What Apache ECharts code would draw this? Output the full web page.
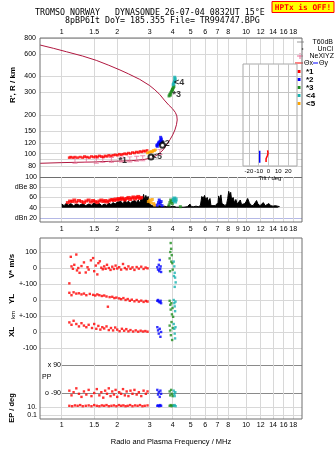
<!DOCTYPE html>
<html>
<head>
<meta charset="utf-8">
<script src="https://cdn.jsdelivr.net/npm/echarts@6/dist/echarts.min.js"></script>
<style>
html, body { margin: 0; padding: 0; background: #fff; }
#main { width: 335px; height: 451px; }
</style>
</head>
<body>
<div id="main"></div>
<script>
// ---- tick labels ----
const freqTicksTop = [1, 1.5, 2, 3, 4, 5, 6, 7, 8, 10, 12, 14, 16, 18];
const freqTicksMid = [1, 1.5, 2, 3, 4, 5, 6, 7, 8, 9, 10, 12, 14, 16, 18];
const freqTicksBottom = [1, 1.5, 2, 3, 4, 5, 6, 7, 8, 10, 12, 14, 16, 18];
const heightTicks = [80, 90, 100, 120, 150, 200, 300, 400, 600, 800];
const insetHeightTicks = [100, 120, 150, 200, 300, 400];
const tiltTicks = [-20, -10, 0, 10, 20];
const dbTicks = [20, 40, 60, 80, 100];
const dbTickNames = ['dBn 20', '40', '60', 'dBe 80', '100'];
const epTicks = [0.1, 10];
const epTickNames = ['0.1', '10.'];
const vTicks = [-100, 0, 100];
const vTickNames = ['+-100', '0', '100'];
const ylTickNames = ['+-100', '0', ''];
const xlTickNames = ['-100', '0', ''];
const ppTicks = [-90, 90];
const ppTickNames = ['o -90', 'x 90'];

// ---- height panel (MHz, km) ----
const profile = [[0.763,84],[1.0,85],[1.2,85.5],[1.5,86],[1.8,87],[2.1,87.5],[2.4,88],[2.6,89],[2.8,90],[3.0,92],[3.2,95],
  [3.4,101],[3.55,107],[3.7,117],[3.86,128],[4.0,140],[4.11,153],[4.19,168],[4.23,183],[4.21,197],[4.13,210],[3.98,225],
  [3.80,240],[3.60,262],[3.40,290],[3.20,315],[3.0,340],[2.65,380],[2.3,420],[2.07,450],[1.8,490],[1.54,535],[1.3,578],
  [1.06,625],[0.9,665],[0.763,705]];
const nexiyz = [[1.18,88],[1.36,89],[1.54,88],[1.67,89],[1.86,89],[2.11,90],[2.34,90],[2.55,91],[2.75,92],[3.41,103]];
const hRed = [[1.10,93],[1.12,94],[1.15,93],[1.18,94],[1.22,93],[1.26,94],[1.30,93],[1.33,95],[1.37,94],[1.41,93],[1.45,95],
  [1.49,94],[1.53,95],[1.56,94],[1.60,96],[1.64,95],[1.68,94],[1.72,96],[1.76,95],[1.80,97],[1.85,96],[1.90,97],[1.95,98],
  [2.00,97],[2.05,99],[2.10,98],[2.15,99],[2.20,100],[2.25,99],[2.30,101],[2.36,100],[2.42,102],[2.48,101],[2.54,103],
  [2.60,102],[2.66,104],[2.72,103],[2.78,105],[2.84,104],[2.90,106]];
const hOrange = [[2.92,101],[2.97,102],[3.02,103],[3.06,104],[3.10,103],[3.14,106],[3.18,105],[3.22,107]];
const hBlue = [[3.28,116],[3.30,114],[3.32,118],[3.35,121],[3.38,123],[3.40,120],[3.42,125],[3.44,134],[3.45,127],[3.47,130],[3.50,124]];
const hGreen = [[3.82,282],[3.86,290],[3.88,286],[3.90,298],[3.94,305],[3.97,312],[3.99,316],[4.00,320],[4.03,328],[4.06,335]];
const hTeal = [[4.02,345],[4.05,352],[4.07,360],[4.09,368],[4.11,376],[4.12,385],[4.10,395]];
const traceLabelNames = ['*1', '<5', '*2', '*3', '<4'];
const traceLabelPos = [[2.02,89],[3.06,95],[3.44,119],[3.97,288],[4.04,356]];
const traceRings = [[3.05,94],[3.52,116]];

// ---- tilt inset (deg, km) ----
const tiltBlue = [[-9,85],[-9,105]];
const tiltRed = [[-2.5,86],[-2.5,91],[-3,93],[-1,97],[-0.5,101],[-1,106]];

// ---- amplitude panel (MHz, dB) ----
const noiseDb = [[1.00,47],[1.03,44],[1.06,49],[1.09,45],[1.12,48],[1.16,44],[1.20,47],[1.25,45],[1.30,48],[1.35,44],[1.40,47],
  [1.45,45],[1.50,49],[1.55,46],[1.60,48],[1.65,44],[1.70,47],[1.75,45],[1.80,49],[1.85,46],[1.90,50],[1.95,47],[2.00,51],
  [2.05,48],[2.10,52],[2.15,47],[2.20,55],[2.25,49],[2.30,53],[2.35,48],[2.40,52],[2.45,49],[2.50,54],[2.55,50],[2.60,55],
  [2.65,49],[2.70,58],[2.74,52],[2.78,66],[2.82,55],[2.86,64],[2.90,56],[2.94,62],[2.98,50],[3.02,46],[3.08,44],[3.14,43],
  [3.20,45],[3.30,42],[3.40,44],[3.50,42],[3.60,43],[3.70,42],[3.80,44],[3.90,42],[4.00,43],[4.10,42],[4.20,41],[4.30,42],
  [4.40,41],[4.50,42],[4.60,41],[4.70,43],[4.80,42],[4.90,44],[4.96,47],[5.05,42],[5.20,42],[5.35,43],[5.50,42],[5.65,44],
  [5.75,62],[5.85,58],[5.95,64],[6.05,55],[6.15,60],[6.25,52],[6.37,58],[6.45,44],[6.60,42],[6.80,44],[6.95,43],[7.05,50],
  [7.10,63],[7.20,55],[7.30,65],[7.40,48],[7.55,46],[7.70,44],[7.85,48],[7.95,58],[8.05,72],[8.15,64],[8.25,70],[8.35,55],
  [8.50,60],[8.65,50],[8.80,56],[8.95,47],[9.10,50],[9.30,55],[9.45,46],[9.65,44],[9.85,48],[10.0,52],[10.2,58],[10.4,50],
  [10.6,45],[10.9,44],[11.2,50],[11.4,54],[11.6,47],[11.9,44],[12.2,46],[12.4,50],[12.7,44],[13.0,46],[13.3,48],[13.6,44],
  [14.0,43],[14.4,44],[14.8,43],[15.2,42]];
const dbRed = [[1.08,50],[1.11,53],[1.14,52],[1.17,55],[1.20,51],[1.24,54],[1.28,52],[1.32,50],[1.36,53],[1.40,55],[1.44,51],
  [1.48,54],[1.52,52],[1.56,50],[1.60,53],[1.64,55],[1.68,52],[1.72,54],[1.76,51],[1.80,53],[1.84,55],[1.88,56],[1.92,54],
  [1.96,57],[2.00,55],[2.04,58],[2.08,56],[2.12,59],[2.16,57],[2.20,55],[2.25,58],[2.30,60],[2.35,56],[2.40,59],[2.45,61],
  [2.50,57],[2.55,60],[2.60,62],[2.65,58],[2.70,60]];
const dbOrange = [[2.95,52],[3.00,55],[3.05,50],[3.10,56],[3.15,48],[3.20,45]];
const dbBlue = [[3.30,45],[3.35,50],[3.38,55],[3.42,48],[3.46,52],[3.50,44]];
const dbGreen = [[3.82,45],[3.86,50],[3.90,55],[3.95,52],[3.98,48],[4.40,42]];
const dbTeal = [[4.05,55],[4.08,58],[4.12,52],[4.15,56]];

// ---- V* (m/s) ----
const vRed = [[1.10,-96],[1.12,70],[1.13,10],[1.15,-5],[1.17,20],[1.20,84],[1.21,-15],[1.23,0],[1.25,-30],[1.28,12],[1.32,35],
  [1.35,-28],[1.38,5],[1.40,-10],[1.44,48],[1.48,62],[1.50,-20],[1.53,15],[1.56,-40],[1.58,30],[1.61,42],[1.64,2],[1.67,-8],
  [1.70,10],[1.73,-5],[1.76,20],[1.80,0],[1.84,-12],[1.88,8],[1.92,-6],[1.96,15],[2.00,-3],[2.05,5],[2.10,-10],[2.15,25],
  [2.20,0],[2.25,-8],[2.30,10],[2.36,-5],[2.42,4],[2.48,-12],[2.55,6],[2.62,-4],[2.70,8],[2.78,-6],[2.85,3],[2.92,-2]];
const vBlue = [[3.30,5],[3.33,-10],[3.36,20],[3.38,-20],[3.40,50],[3.42,-5],[3.44,10],[3.46,-25]];
const vGreen = [[3.85,60],[3.87,-20],[3.88,100],[3.90,156],[3.92,120],[3.93,40],[3.95,80],[3.98,30],[4.00,-10]];
const vTeal = [[4.05,40],[4.06,-50],[4.08,10],[4.10,-30],[4.10,-118],[4.12,-60],[4.15,-90]];

// ---- YL, XL (km) ----
const ylRed = [[1.10,45],[1.13,30],[1.16,48],[1.20,40],[1.24,42],[1.28,35],[1.32,40],[1.36,30],[1.42,38],[1.48,32],[1.52,28],
  [1.56,35],[1.60,30],[1.65,25],[1.70,28],[1.75,22],[1.78,-42],[1.82,18],[1.88,20],[1.93,12],[1.98,15],[2.05,10],[2.10,5],
  [2.16,12],[2.22,0],[2.28,6],[2.34,-5],[2.40,2],[2.48,-8],[2.55,0],[2.62,-10],[2.70,-4],[2.78,-12],[2.86,-6],[2.92,-10]];
const ylBlue = [[3.30,-5],[3.33,0],[3.36,-10],[3.40,-15],[3.44,-5],[3.46,-20]];
const ylGreen = [[3.85,-5],[3.88,-30],[3.90,-60],[3.93,-20],[3.96,-90],[3.99,-50],[4.02,-105]];
const ylTeal = [[4.05,0],[4.08,-20],[4.10,-40],[4.12,-70],[4.14,-10]];
const xlRed = [[1.10,60],[1.13,45],[1.16,70],[1.20,50],[1.24,35],[1.28,55],[1.32,40],[1.36,30],[1.40,45],[1.46,25],[1.50,50],
  [1.54,20],[1.58,38],[1.62,15],[1.66,30],[1.70,22],[1.75,35],[1.80,12],[1.85,25],[1.90,10],[1.95,28],[2.00,15],[2.06,5],
  [2.12,20],[2.18,8],[2.24,18],[2.30,4],[2.36,12],[2.44,3],[2.52,10],[2.60,2],[2.68,8],[2.76,3],[2.84,6],[2.92,2]];
const xlBlue = [[3.30,30],[3.33,10],[3.36,-10],[3.40,20],[3.43,-30],[3.46,0]];
const xlGreen = [[3.85,40],[3.88,10],[3.91,-20],[3.94,62],[3.97,-50],[4.00,25]];
const xlTeal = [[4.05,50],[4.08,20],[4.10,-10],[4.12,-40],[4.14,30]];

// ---- PP, EP (deg) ----
const ppRed = [[1.10,-75],[1.13,-105],[1.16,-85],[1.20,-60],[1.24,-95],[1.28,-115],[1.32,-80],[1.36,-100],[1.40,-70],
  [1.45,-110],[1.50,-90],[1.55,-65],[1.60,-105],[1.64,-85],[1.68,-120],[1.72,-75],[1.76,-95],[1.80,-60],[1.84,-110],
  [1.88,-80],[1.92,-100],[1.96,-70],[2.00,-115],[2.05,-85],[2.10,-95],[2.15,-65],[2.20,-105],[2.25,-80],[2.30,-110],
  [2.36,-75],[2.42,-95],[2.48,-70],[2.55,-100],[2.62,-85],[2.70,-110],[2.78,-75],[2.86,-95],[2.92,-80]];
const ppBlue = [[3.30,-70],[3.33,-100],[3.36,-85],[3.40,-115],[3.43,-75],[3.46,-95]];
const ppGreen = [[3.85,-80],[3.88,-105],[3.92,-70],[3.96,-95],[4.00,-110]];
const ppTeal = [[4.05,-75],[4.08,-95],[4.10,-110],[4.13,-85]];
const epRed = [[1.10,20],[1.14,16],[1.18,25],[1.22,20],[1.26,30],[1.30,16],[1.35,20],[1.40,25],[1.45,16],[1.50,30],[1.55,20],
  [1.60,16],[1.65,25],[1.70,20],[1.75,30],[1.80,16],[1.86,20],[1.92,25],[1.98,16],[2.04,30],[2.10,20],[2.16,25],[2.22,16],
  [2.28,20],[2.35,30],[2.42,16],[2.50,25],[2.58,20],[2.66,30],[2.74,16],[2.82,20],[2.92,25]];
const epBlue = [[3.30,20],[3.34,25],[3.38,16],[3.42,30],[3.46,20]];
const epGreen = [[3.85,20],[3.90,30],[3.95,16],[4.00,25]];
const epTeal = [[4.05,20],[4.10,30],[4.15,16]];

// ---- legend ----
const legendNames = ['*1', '*2', '*3', '<4', '<5'];

const red = '#ff0000', blue = '#0000ff', green = '#1e8c1e', teal = '#16b2b0', orange = '#ffa500';
const pink = '#e8709a', curveColor = '#b0173f';
const legendColors = [red, blue, green, teal, orange];
const frameColor = '#6e6e6e', gridColor = '#d8d8d8';
const fontFam = '"Liberation Sans", Arial, sans-serif';

const lg = Math.log10;
const fMin = 0.7625, fMax = 20.1;
const hMin = 80, hMax = 800, insetHMax = 500;
const epMin = 0.01, epMax = 1000;
const ppLeft = 62;
const ppFMin = fMin * Math.pow(fMax / fMin, (ppLeft - 40) / 262);

function tickName(ticks, names, v, useLog) {
  for (let i = 0; i < ticks.length; i++) {
    const t = useLog ? lg(ticks[i]) : ticks[i];
    if (Math.abs(t - v) < 1e-6) return names ? names[i] : String(ticks[i]);
  }
  return '';
}

function hidden(grid, type, min, max, position) {
  return { type: type, gridIndex: grid, min: min, max: max, position: position, show: false };
}

// value axis in log10 space, used only for ticks, labels and grid lines
function logTicks(grid, ticks, names, min, max, position, margin, showLabel, lineColor) {
  const vals = ticks.map(lg);
  return {
    type: 'value', gridIndex: grid, position: position, min: lg(min), max: lg(max),
    axisLine: { show: false, onZero: false },
    axisTick: { show: false, customValues: vals },
    axisLabel: { show: showLabel, customValues: vals, margin: margin, fontSize: 7, color: '#000', fontFamily: fontFam,
      hideOverlap: false, showMinLabel: true, showMaxLabel: true, formatter: v => tickName(ticks, names, v, true) },
    splitLine: { show: true, lineStyle: { color: lineColor || gridColor, width: 1 } }
  };
}

function linearTicks(grid, ticks, names, min, max, margin, lineColor) {
  return {
    type: 'value', gridIndex: grid, position: 'left', min: min, max: max,
    axisLine: { show: false, onZero: false },
    axisTick: { show: false, customValues: ticks },
    axisLabel: { customValues: ticks, margin: margin, fontSize: 7, color: '#000', fontFamily: fontFam,
      hideOverlap: false, showMinLabel: true, showMaxLabel: true, formatter: v => tickName(ticks, names, v, false) },
    splitLine: { show: true, lineStyle: { color: lineColor, width: 1 } }
  };
}

const grids = [
  { left: 40, top: 38, width: 262, height: 184, show: true, borderColor: frameColor, z: 3 },
  { left: 40, top: 38, width: 262, height: 128 },
  { left: 243, top: 64, width: 54, height: 102, show: true, borderColor: '#a8a8a8', backgroundColor: '#fff', z: 1 },
  { left: 40, top: 177, width: 262, height: 45 },
  { left: 40, top: 238, width: 262, height: 181, show: true, borderColor: frameColor, z: 3 },
  { left: 40, top: 252, width: 262, height: 32 },
  { left: 40, top: 284, width: 262, height: 32 },
  { left: 40, top: 316, width: 262, height: 32 },
  { left: ppLeft, top: 365, width: 240, height: 28 },
  { left: 40, top: 399, width: 262, height: 20 }
].map(g => Object.assign({ containLabel: false, outerBoundsMode: 'none' }, g));

const tiltAxis = {
  type: 'value', gridIndex: 2, position: 'bottom', min: -26, max: 29, z: 2,
  axisLine: { show: false, onZero: false },
  axisTick: { show: false, customValues: tiltTicks },
  axisLabel: { customValues: tiltTicks, margin: 2, fontSize: 6, color: '#000', fontFamily: fontFam,
    hideOverlap: false, showMinLabel: true, showMaxLabel: true },
  splitLine: { lineStyle: { color: '#c4c4c4' } },
  name: 'Tilt / deg', nameLocation: 'middle', nameGap: 9,
  nameTextStyle: { fontSize: 6, color: '#000', fontFamily: fontFam }
};

const bottomFreq = logTicks(4, freqTicksBottom, null, fMin, fMax, 'bottom', 3, true);
bottomFreq.name = 'Radio and Plasma Frequency / MHz';
bottomFreq.nameLocation = 'middle';
bottomFreq.nameGap = 19;
bottomFreq.nameTextStyle = { fontSize: 7.5, color: '#000', fontFamily: fontFam };

const xAxes = [
  hidden(0, 'value', 0, 1, 'bottom'),                                          // 0 frame
  hidden(1, 'log', fMin, fMax, 'bottom'),                                       // 1 heights
  logTicks(1, freqTicksTop, null, fMin, fMax, 'top', 2, true),                  // 2
  tiltAxis,                                                                     // 3 inset
  hidden(3, 'log', fMin, fMax, 'top'),                                          // 4 dB
  logTicks(3, freqTicksMid, null, fMin, fMax, 'bottom', 4, true),               // 5
  bottomFreq,                                                                   // 6 lower frame
  hidden(5, 'log', fMin, fMax, 'bottom'),                                       // 7 V*
  hidden(6, 'log', fMin, fMax, 'bottom'),                                       // 8 YL
  hidden(7, 'log', fMin, fMax, 'bottom'),                                       // 9 XL
  hidden(8, 'log', ppFMin, fMax, 'bottom'),                                     // 10 PP
  hidden(9, 'log', fMin, fMax, 'bottom')                                        // 11 EP
];

const insetLines = logTicks(2, insetHeightTicks, null, hMin, insetHMax, 'left', 2, false, '#c4c4c4');
insetLines.z = 2;

const yAxes = [
  hidden(0, 'value', 0, 1, 'right'),                                            // 0
  hidden(1, 'log', hMin, hMax, 'right'),                                        // 1
  logTicks(1, heightTicks, null, hMin, hMax, 'left', 4, true),                  // 2
  hidden(2, 'log', hMin, insetHMax, 'right'),                                   // 3
  insetLines,                                                                   // 4
  linearTicks(3, dbTicks, dbTickNames, 12, 100, 3, ['#b4b8e6', gridColor, gridColor, gridColor, frameColor]), // 5
  hidden(4, 'value', 0, 1, 'right'),                                            // 6
  linearTicks(5, vTicks, vTickNames, -100, 100, 3, gridColor),                  // 7
  linearTicks(6, vTicks, ylTickNames, -100, 100, 3, gridColor),                 // 8
  linearTicks(7, vTicks, xlTickNames, -100, 100, 3, gridColor),                 // 9
  linearTicks(8, ppTicks, ppTickNames, -90, 90, 1, '#8a8a8a'),                  // 10
  hidden(9, 'log', epMin, epMax, 'right'),                                      // 11
  logTicks(9, epTicks, epTickNames, epMin, epMax, 'left', 3, true)              // 12
];

const iBeam = 'path://M0 0H6V1.2H3.6V6.8H6V8H0V6.8H2.4V1.2H0Z';

function dots(name, xi, yi, data, color, size, symbol) {
  return { type: 'scatter', name: name, xAxisIndex: xi, yAxisIndex: yi, data: data, symbol: symbol || 'rect',
    symbolSize: size || 2.4, itemStyle: { color: color }, clip: false, silent: true, z: 3 };
}

let series = [
  { type: 'line', xAxisIndex: 1, yAxisIndex: 1, data: profile, symbol: 'none', silent: true,
    lineStyle: { color: curveColor, width: 1 }, z: 2 },
  dots('NeXIYZ', 1, 1, nexiyz, pink, [5, 6], iBeam),
  dots('*1', 1, 1, hRed, red, [3, 2.5]),
  dots('<5', 1, 1, hOrange, orange, [3, 2.5]),
  dots('*2', 1, 1, hBlue, blue, [3, 3]),
  dots('*3', 1, 1, hGreen, green, [3, 3]),
  dots('<4', 1, 1, hTeal, teal, [3, 3]),
  { type: 'scatter', xAxisIndex: 1, yAxisIndex: 1, symbol: 'emptyCircle', symbolSize: 5, silent: true, z: 4,
    itemStyle: { color: '#000', borderColor: '#000', borderWidth: 1 }, data: traceRings },
  { type: 'scatter', xAxisIndex: 1, yAxisIndex: 1, symbolSize: 1, silent: true, z: 5,
    itemStyle: { color: 'rgba(0,0,0,0)' },
    data: traceLabelPos.map((p, i) => ({ name: traceLabelNames[i], value: p })),
    label: { show: true, position: 'right', distance: 0, formatter: p => p.name, fontSize: 9, fontWeight: 'bold',
      color: '#000', fontFamily: fontFam } },
  // tilt inset
  { type: 'line', xAxisIndex: 3, yAxisIndex: 3, data: tiltBlue, symbol: 'none', silent: true,
    lineStyle: { color: blue, width: 1.5 }, z: 5 },
  { type: 'line', xAxisIndex: 3, yAxisIndex: 3, data: tiltRed, symbol: 'none', silent: true,
    lineStyle: { color: red, width: 1.5 }, z: 5 },
  // amplitudes
  { type: 'line', xAxisIndex: 4, yAxisIndex: 5, data: noiseDb, symbol: 'none', silent: true,
    lineStyle: { color: '#000', width: 1 }, areaStyle: { color: '#000', opacity: 1, origin: 40 }, z: 2 },
  dots('', 4, 5, dbRed, red, [4, 3]),
  dots('', 4, 5, dbOrange, orange, [3, 3]),
  dots('', 4, 5, dbBlue, blue, [3, 3]),
  dots('', 4, 5, dbGreen, green, [3, 3]),
  dots('', 4, 5, dbTeal, teal, [4, 4]),
  // V*, YL, XL, PP, EP
  dots('', 7, 7, vRed, red), dots('', 7, 7, vBlue, blue), dots('', 7, 7, vGreen, green), dots('', 7, 7, vTeal, teal),
  dots('', 8, 8, ylRed, red), dots('', 8, 8, ylBlue, blue), dots('', 8, 8, ylGreen, green), dots('', 8, 8, ylTeal, teal),
  dots('', 9, 9, xlRed, red), dots('', 9, 9, xlBlue, blue), dots('', 9, 9, xlGreen, green), dots('', 9, 9, xlTeal, teal),
  dots('', 10, 10, ppRed, red), dots('', 10, 10, ppBlue, blue), dots('', 10, 10, ppGreen, green), dots('', 10, 10, ppTeal, teal),
  dots('', 11, 11, epRed, red), dots('', 11, 11, epBlue, blue), dots('', 11, 11, epGreen, green), dots('', 11, 11, epTeal, teal)
];

function txt(x, y, text, font, extra) {
  return Object.assign({ type: 'text', x: x, y: y, silent: true,
    style: { text: text, fill: '#000', font: font, align: 'left', verticalAlign: 'middle' } }, extra || {});
}
function vtxt(x, y, text, font) {
  return { type: 'text', x: x, y: y, rotation: Math.PI / 2, silent: true,
    style: { text: text, fill: '#000', font: font, align: 'center', verticalAlign: 'middle' } };
}
function hline(x1, x2, y, color, w) {
  return { type: 'line', silent: true, shape: { x1: x1, y1: y, x2: x2, y2: y }, style: { stroke: color, lineWidth: w || 1 } };
}

const mono = '8.3px "DejaVu Sans Mono", monospace';
const small = '7px ' + fontFam;
const legendRows = [71.5, 79.5, 87.5, 95.5, 103.5];

let graphic = [
  txt(35, 12.5, 'TROMSO NORWAY   DYNASONDE 26-07-04 0832UT 15°E', mono),
  txt(65, 20.5, '8pBP6It DoY= 185.355 File= TR994747.BPG', mono),
  { type: 'rect', silent: true, shape: { x: 272, y: 1.5, width: 62, height: 11 },
    style: { fill: '#ffff00', stroke: '#ff0000', lineWidth: 1 } },
  txt(303, 7.5, 'HPTx is OFF!', 'bold 7.8px "DejaVu Sans Mono", monospace', { style: { text: 'HPTx is OFF!', fill: '#ff0000',
    font: 'bold 7.8px "DejaVu Sans Mono", monospace', align: 'center', verticalAlign: 'middle' } }),
  vtxt(13, 85, "R', R / km", 'bold 8px ' + fontFam),
  vtxt(12, 266, 'V* m/s', 'bold 8px ' + fontFam),
  vtxt(12, 299, 'YL', 'bold 8px ' + fontFam),
  vtxt(13, 315, 'km', '6px ' + fontFam),
  vtxt(12, 332, 'XL', 'bold 8px ' + fontFam),
  vtxt(12, 408, 'EP / deg', 'bold 7.5px ' + fontFam),
  txt(42, 377, 'PP', small),
  // legend
  hline(297, 304, 42, '#9a9a9a'),
  txt(333, 42, 'T60dB', small, { style: { text: 'T60dB', fill: '#000', font: small, align: 'right', verticalAlign: 'middle' } }),
  { type: 'circle', silent: true, shape: { cx: 302.5, cy: 49, r: 0.8 }, style: { fill: '#000' } },
  txt(333, 49, 'UnCl', small, { style: { text: 'UnCl', fill: '#000', font: small, align: 'right', verticalAlign: 'middle' } }),
  hline(297, 303, 56, pink),
  { type: 'line', silent: true, shape: { x1: 300, y1: 53, x2: 300, y2: 59 }, style: { stroke: pink, lineWidth: 1 } },
  txt(334, 56, 'NeXIYZ', small, { style: { text: 'NeXIYZ', fill: '#000', font: small, align: 'right', verticalAlign: 'middle' } }),
  hline(295, 303, 63, red),
  txt(304, 63, 'Θx', small),
  hline(313, 318, 63, blue),
  txt(319, 63, 'Θy', small)
];
legendNames.forEach((n, i) => {
  graphic.push({ type: 'rect', silent: true, shape: { x: 297.5, y: legendRows[i] - 1.5, width: 3, height: 3 },
    style: { fill: legendColors[i] } });
  graphic.push(txt(306, legendRows[i], n, 'bold 8px ' + fontFam));
});

let option = {
  animation: false,
  textStyle: { fontFamily: fontFam },
  grid: grids,
  xAxis: xAxes,
  yAxis: yAxes,
  series: series,
  graphic: graphic
};

let myChart = echarts.init(document.getElementById('main'), null, { renderer: 'canvas' });
myChart.setOption(option);
</script>
</body>
</html>
